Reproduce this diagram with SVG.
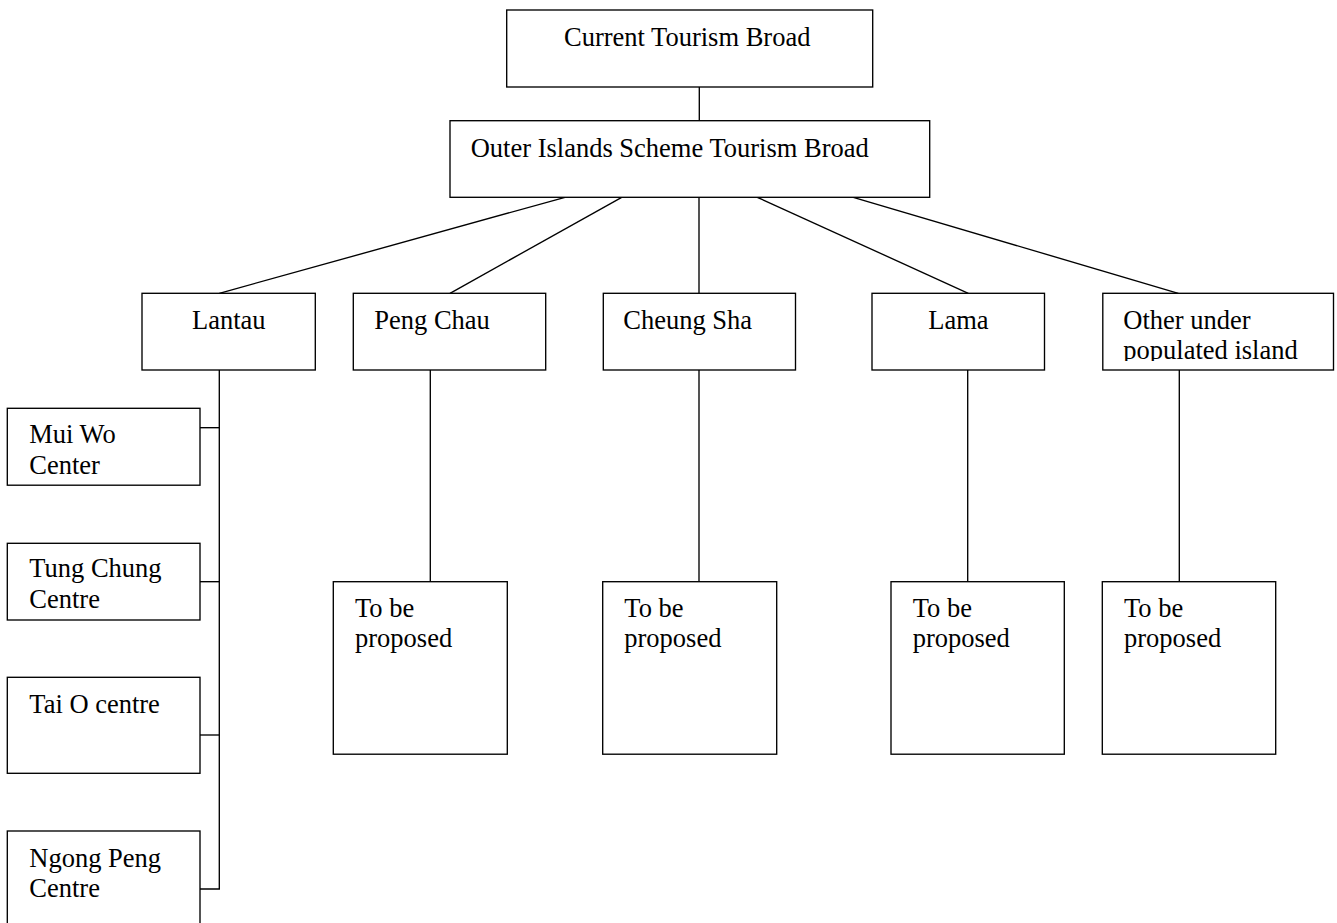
<svg xmlns="http://www.w3.org/2000/svg" width="1337" height="923" viewBox="0 0 1337 923">
<style>
.box{fill:#fff;stroke:#000;stroke-width:1.35}
.c{stroke:#000;stroke-width:1.35;fill:none}
text{font-family:"Liberation Serif","Times New Roman",serif;font-size:26.5px;fill:#000}
</style>
<defs>
<clipPath id="clipOther"><rect x="1102" y="293" width="232" height="68"/></clipPath>
</defs>
<rect width="1337" height="923" fill="#fff"/>
<g id="connectors">
<line class="c" x1="699.3" y1="87" x2="699.3" y2="120.7"/>
<line class="c" x1="565" y1="197.3" x2="219.3" y2="293.3"/>
<line class="c" x1="621.7" y1="197.3" x2="450" y2="293.3"/>
<line class="c" x1="699" y1="197.3" x2="699" y2="293.3"/>
<line class="c" x1="757.3" y1="197.3" x2="968.3" y2="293.3"/>
<line class="c" x1="853.3" y1="197.3" x2="1178.3" y2="293.3"/>
<polyline class="c" points="219.3,370 219.3,889 200,889"/>
<line class="c" x1="200" y1="427.7" x2="219.3" y2="427.7"/>
<line class="c" x1="200" y1="581.7" x2="219.3" y2="581.7"/>
<line class="c" x1="200" y1="735" x2="219.3" y2="735"/>
<line class="c" x1="430.3" y1="370" x2="430.3" y2="581.7"/>
<line class="c" x1="699" y1="370" x2="699" y2="581.7"/>
<line class="c" x1="967.7" y1="370" x2="967.7" y2="581.7"/>
<line class="c" x1="1179.3" y1="370" x2="1179.3" y2="581.7"/>
</g>
<g id="current">
<rect class="box" x="506.7" y="10" width="366" height="77"/>
<text x="564" y="45.5">Current Tourism Broad</text>
</g>
<g id="outer">
<rect class="box" x="450" y="120.7" width="479.7" height="76.6"/>
<text x="470.7" y="156.5">Outer Islands Scheme Tourism Broad</text>
</g>
<g id="lantau">
<rect class="box" x="142" y="293.3" width="173.3" height="76.7"/>
<text x="192" y="329">Lantau</text>
</g>
<g id="pengchau">
<rect class="box" x="353.3" y="293.3" width="192.4" height="76.7"/>
<text x="374.3" y="328.5">Peng Chau</text>
</g>
<g id="cheungsha">
<rect class="box" x="603.3" y="293.3" width="192.2" height="76.7"/>
<text x="623.3" y="328.5">Cheung Sha</text>
</g>
<g id="lama">
<rect class="box" x="872" y="293.3" width="172.5" height="76.7"/>
<text x="928.3" y="329">Lama</text>
</g>
<g id="other">
<rect class="box" x="1102.8" y="293.3" width="230.7" height="76.7"/>
<g clip-path="url(#clipOther)">
<text x="1123.3" y="329">Other under</text>
<text x="1123.3" y="359.3">populated island</text>
</g>
</g>
<g id="muiwo">
<rect class="box" x="7.3" y="408.3" width="192.7" height="76.9"/>
<text x="29.3" y="443.3">Mui Wo</text>
<text x="29.3" y="474.3">Center</text>
</g>
<g id="tungchung">
<rect class="box" x="7.3" y="543.3" width="192.7" height="76.7"/>
<text x="29.3" y="576.7">Tung Chung</text>
<text x="29.3" y="608">Centre</text>
</g>
<g id="taio">
<rect class="box" x="7.3" y="677.3" width="192.7" height="96"/>
<text x="29.3" y="713.3">Tai O centre</text>
</g>
<g id="ngongpeng">
<rect class="box" x="7.3" y="831" width="192.7" height="110"/>
<text x="29.3" y="866.7">Ngong Peng</text>
<text x="29.3" y="897.3">Centre</text>
</g>
<g id="tbp1">
<rect class="box" x="333.3" y="581.7" width="174" height="172.5"/>
<text x="355" y="616.7">To be</text>
<text x="355" y="647.3">proposed</text>
</g>
<g id="tbp2">
<rect class="box" x="602.7" y="581.7" width="174" height="172.5"/>
<text x="624.3" y="616.7">To be</text>
<text x="624.3" y="647.3">proposed</text>
</g>
<g id="tbp3">
<rect class="box" x="891" y="581.7" width="173.3" height="172.5"/>
<text x="912.7" y="616.7">To be</text>
<text x="912.7" y="647.3">proposed</text>
</g>
<g id="tbp4">
<rect class="box" x="1102.3" y="581.7" width="173.4" height="172.5"/>
<text x="1124" y="616.7">To be</text>
<text x="1124" y="647.3">proposed</text>
</g>
</svg>
